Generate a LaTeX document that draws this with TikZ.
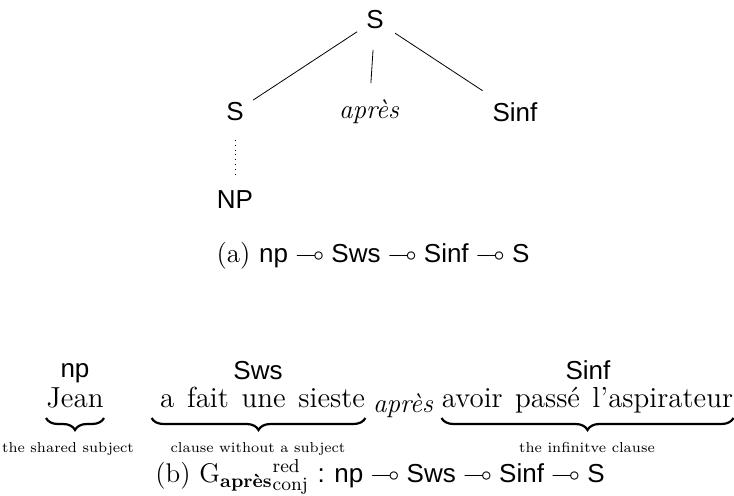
\documentclass[tikz,border=0pt]{standalone}
\usepackage{amsmath,amssymb}
\usepackage{fontspec}
\setsansfont{Liberation Sans}
\usetikzlibrary{decorations.pathreplacing}
\newcommand{\lolli}{\mathbin{\multimap}}
\begin{document}
\begin{tikzpicture}[x=0.5pt,y=-0.5pt,
  sfn/.style={font=\fontsize{13}{15}\selectfont\sffamily, inner sep=0pt},
  itn/.style={font=\fontsize{13.5}{15}\selectfont\itshape, inner sep=0pt},
  word/.style={font=\fontsize{14.5}{16}\selectfont, anchor=base, inner sep=0pt},
  cat/.style={font=\fontsize{13}{15}\selectfont\sffamily, anchor=base, inner sep=1pt},
  small/.style={font=\fontsize{7.2}{8}\selectfont, anchor=base, inner sep=1pt},
  brc/.style={decorate, decoration={brace, amplitude=6pt}, line width=1.1pt},
  captxt/.style={font=\fontsize{13.5}{15}\selectfont, anchor=base, inner sep=1pt}]
\useasboundingbox (0,0) rectangle (734,496);
% tree
\node[sfn] (top) at (375,20) {S};
\node[sfn] (l) at (235,112) {S};
\node[itn] (m) at (369,112) {après};
\node[sfn] (r) at (515,112) {Sinf};
\node[sfn] (np) at (235,200) {NP};
\draw[shorten <=10.7pt, shorten >=10.8pt] (top.center) -- (l.center);
\draw[shorten <=15pt, shorten >=14.5pt] (top.center) -- (m.center);
\draw[shorten <=12pt, shorten >=19.4pt] (top.center) -- (r.center);
\draw[dotted, shorten <=14pt, shorten >=12.5pt] (l.center) -- (np.center);
\node[captxt] (capa) at (373,263) {(a)\ \textsf{\fontsize{13}{15}\selectfont np $\lolli$ Sws $\lolli$ Sinf $\lolli$ S}};
% sentence
\node[cat] (c1) at (75,378) {np};
\node[word] (w1) at (75,408) {Jean};
\node[cat] (c2) at (258,380) {Sws};
\node[word, text width=106.5pt, align=right] (w2) at (258.5,408) {\spaceskip=6.2pt plus 1pt a fait une sieste};
\node[word, font=\fontsize{13.5}{15}\selectfont\itshape] (w3) at (403,413) {après};
\node[cat] (c4) at (588,380) {Sinf};
\node[word] (w4) at (587.5,408) {\spaceskip=6.2pt avoir passé l'aspirateur};
\draw[brc] ([yshift=-5pt]w1.base east) -- ([yshift=-5pt]w1.base west);
\draw[brc] ([yshift=-5pt]w2.base east) -- ([yshift=-5pt]w2.base west);
\draw[brc] ([yshift=-5pt]w4.base east) -- ([yshift=-5pt]w4.base west);
\node[small] (s1) at (68,453) {the shared subject};
\node[small] (s2) at (258,453) {clause without a subject};
\node[small] (s4) at (587,453) {the infinitve clause};
\node[captxt] (capb) at (380,483) {(b)\ $\mathrm{G}_{\text{\bfseries après}}{}^{\mathrm{red}}_{\mathrm{conj}}$ \textsf{\fontsize{13}{15}\selectfont : np $\lolli$ Sws $\lolli$ Sinf $\lolli$ S}};
\end{tikzpicture}
\end{document}
